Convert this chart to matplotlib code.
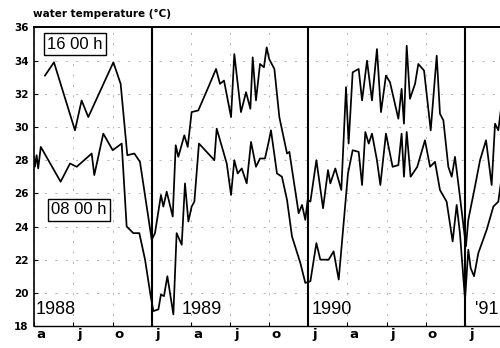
import matplotlib
matplotlib.use("Agg")
import matplotlib.pyplot as plt

# x positions: months since 1 Jan 1988
pm_m = [3.82, 4.51, 6.12, 6.63, 7.14, 9.06, 9.62, 10.13, 10.67, 11.10,
        11.56, 12.0, 12.25, 12.71, 12.89, 13.15, 13.61, 13.84, 14.04, 14.50,
        14.76, 15.06, 15.57, 16.34, 16.93, 17.23, 17.54, 18.08, 18.33, 18.84,
        19.23, 19.56, 19.74, 19.99, 20.30, 20.60, 20.81, 21.0, 21.4, 21.78,
        22.37, 22.55, 23.26, 23.52, 23.77, 23.95, 24.16, 24.62, 25.13, 25.51,
        25.69, 26.07, 26.53, 26.89, 27.09, 27.40, 27.86, 28.12, 28.50, 28.88,
        29.26, 29.57, 29.95, 30.26, 30.90, 31.15, 31.33, 31.54, 31.79, 32.18,
        32.43, 32.87, 33.38, 33.84, 34.09, 34.35, 34.73, 34.99, 35.24, 35.62,
        36.08, 36.26, 36.77, 37.16, 37.62, 38.05, 38.31, 38.56, 38.75]
pm_t = [33.1, 33.9, 29.8, 31.6, 30.6, 33.9, 32.6, 28.3, 28.4, 27.9,
        25.5, 23.2, 23.6, 25.9, 25.2, 26.1, 24.6, 28.9, 28.2, 29.5,
        28.8, 30.9, 31.0, 32.4, 33.5, 32.6, 32.8, 30.6, 34.4, 30.9,
        32.1, 31.1, 34.2, 31.6, 33.8, 33.6, 34.8, 34.1, 33.5, 30.6,
        28.4, 28.5, 24.8, 25.3, 24.4, 25.6, 25.5, 28.0, 25.1, 27.4,
        26.6, 27.5, 26.2, 32.4, 29.0, 33.3, 33.5, 31.6, 34.0, 31.6,
        34.7, 30.9, 33.1, 32.7, 30.5, 32.3, 30.2, 34.9, 31.7, 32.6,
        33.8, 33.4, 29.8, 34.3, 30.8, 30.4, 27.6, 27.0, 28.2, 25.8,
        22.8, 24.4, 26.4, 28.0, 29.2, 26.5, 30.2, 29.8, 31.0]

am_m = [2.98, 3.05, 3.18, 3.3, 3.5, 5.02, 5.74, 6.25, 7.40, 7.60,
        8.29, 9.01, 9.70, 10.08, 10.59, 11.05, 11.49, 11.92, 12.13, 12.51,
        12.71, 12.94, 13.20, 13.66, 13.91, 14.30, 14.55, 14.81, 15.06, 15.27,
        15.62, 16.80, 16.98, 17.75, 18.08, 18.33, 18.59, 18.90, 19.28, 19.61,
        19.99, 20.30, 20.68, 20.99, 21.14, 21.60, 21.98, 22.37, 22.75, 23.39,
        23.77, 24.16, 24.62, 24.92, 25.56, 25.94, 26.33, 27.04, 27.40, 27.86,
        28.12, 28.37, 28.63, 28.88, 29.26, 29.52, 29.95, 30.46, 30.90, 31.15,
        31.33, 31.54, 31.84, 32.35, 32.94, 33.33, 33.71, 34.09, 34.60, 35.06,
        35.37, 35.62, 36.01, 36.26, 36.44, 36.70, 37.03, 37.67, 38.18, 38.56,
        38.75]
am_t = [28.2, 27.6, 28.3, 27.5, 28.8, 26.7, 27.8, 27.6, 28.4, 27.1,
        29.6, 28.6, 29.0, 24.0, 23.6, 23.6, 22.0, 19.8, 18.9, 19.0,
        19.9, 19.8, 21.0, 18.7, 23.6, 22.9, 26.6, 24.3, 25.2, 25.5,
        29.0, 28.0, 29.9, 27.8, 25.9, 28.0, 27.2, 27.5, 26.6, 29.1,
        27.6, 28.1, 28.1, 29.2, 29.8, 27.2, 27.0, 25.6, 23.4, 21.8,
        20.6, 20.7, 23.0, 22.0, 22.0, 22.5, 20.8, 27.2, 28.6, 28.5,
        26.5, 29.7, 29.0, 29.6, 28.0, 26.5, 29.6, 27.6, 27.7, 29.6,
        27.0, 29.7, 27.0, 27.6, 29.2, 27.6, 27.9, 26.2, 25.5, 23.1,
        25.3, 23.6, 19.6, 22.6, 21.5, 21.0, 22.4, 23.8, 25.2, 25.5,
        26.6]

year_starts = [12, 24, 36]
year_labels = ["1988", "1989", "1990", "'91"]
year_label_x = [3.13, 14.32, 24.28, 36.77]
month_labels = ["a", "j", "o", "j", "a", "j", "o", "j", "a", "j", "o", "j"]
month_label_x = [3.5 + 3 * i for i in range(12)]
quarter_ticks = [3 * i for i in range(1, 13)]
y_ticks = list(range(18, 37, 2))

fig = plt.figure(figsize=(5.0, 3.48), dpi=100)
ax = fig.add_axes([0.068, 0.0632, 0.932, 0.8578])
ax.set_xlim(2.98, 38.69)
ax.set_ylim(18, 36)

# sparse dashed grid (faint, as in the printed original)
for q in quarter_ticks:
    if q not in year_starts:
        ax.axvline(q, color="0.6", lw=0.5, dashes=(3, 12), zorder=1)
for yv in y_ticks[1:-1]:
    ax.axhline(yv, color="0.6", lw=0.5, dashes=(3, 12), zorder=1)

for ys in year_starts:
    ax.axvline(ys, color="black", lw=1.5, zorder=3)

ax.plot(pm_m, pm_t, color="black", lw=1.25, zorder=4)
ax.plot(am_m, am_t, color="black", lw=1.25, zorder=4)

ax.spines["right"].set_visible(False)
ax.spines["top"].set_linewidth(1.4)
ax.spines["left"].set_linewidth(1.2)
ax.spines["bottom"].set_linewidth(1.0)

ax.set_yticks(y_ticks)
ax.set_yticklabels([str(v) for v in y_ticks], fontweight="bold", fontsize=7.5,
                   family="DejaVu Sans")
ax.tick_params(axis="y", direction="in", length=3, width=0.8, pad=4)

ax.set_xticks(quarter_ticks)
ax.set_xticklabels([])
ax.set_xticks(month_label_x, minor=True)
ax.set_xticklabels(month_labels, minor=True, fontweight="bold", fontsize=9.5,
                   family="DejaVu Sans")
ax.tick_params(axis="x", which="major", direction="in", length=3, width=0.8)
ax.tick_params(axis="x", which="minor", length=0, pad=1.5)

box = dict(boxstyle="square,pad=0.22", fc="white", ec="black", lw=1.0)
ax.text(6.12, 35.0, "16 00 h", family="Liberation Sans", fontsize=12,
        ha="center", va="center", bbox=box, zorder=6)
ax.text(6.43, 25.0, "08 00 h", family="Liberation Sans", fontsize=12,
        ha="center", va="center", bbox=box, zorder=6)

for lbl, xl in zip(year_labels, year_label_x):
    ax.text(xl, 19.0, lbl, family="Liberation Sans", fontsize=13,
            ha="left", va="center", zorder=6)

fig.text(0.066, 1 - 14 / 348, "water temperature (°C)", fontsize=7.5,
         fontweight="bold", family="DejaVu Sans", ha="left", va="center")

fig.savefig("out.png", dpi=100)
